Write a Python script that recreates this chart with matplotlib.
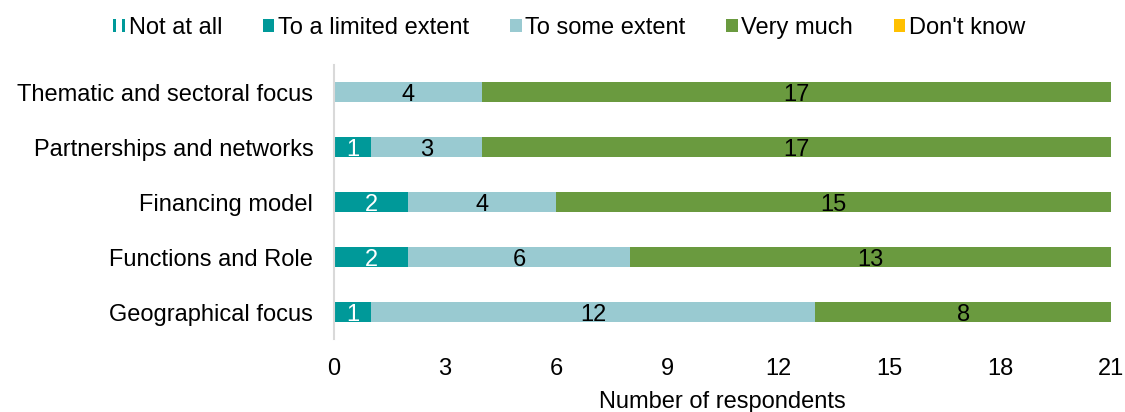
import numpy as np
import matplotlib.pyplot as plt
from matplotlib.patches import Patch
from matplotlib.legend_handler import HandlerTuple

plt.rcParams['font.family'] = ['Liberation Sans', 'DejaVu Sans']

categories = ['Geographical focus', 'Functions and Role', 'Financing model',
              'Partnerships and networks', 'Thematic and sectoral focus']
series = ['Not at all', 'To a limited extent', 'To some extent', 'Very much', "Don't know"]
not_at_all = [0, 0, 0, 0, 0]
limited = [1, 2, 2, 1, 0]
some = [12, 6, 4, 3, 4]
very_much = [8, 13, 15, 17, 17]
dont_know = [0, 0, 0, 0, 0]
xticks = [0, 3, 6, 9, 12, 15, 18, 21]

colors = ['#009999', '#009999', '#99CAD1', '#6A9A3F', '#FFC000']
text_colors = ['white', 'white', 'black', 'black', 'black']

fig = plt.figure(figsize=(11.25, 4.12), dpi=100)
ax = fig.add_axes([0.297, 0.176, 0.6907, 0.667])

y = np.arange(len(categories))
left = np.zeros(len(categories))
for vals, col, tc in zip([not_at_all, limited, some, very_much, dont_know], colors, text_colors):
    vals = np.array(vals)
    ax.barh(y, vals, left=left, height=0.36, color=col)
    for yi, l, v in zip(y, left, vals):
        if v > 0:
            ax.text(l + v / 2, yi, str(v), ha='center', va='center_baseline', color=tc, fontsize=17)
    left += vals

ax.set_xlim(0, 21)
ax.set_ylim(-0.5, 4.5)
ax.set_xticks(xticks)
ax.set_yticks(y)
ax.set_yticklabels(categories)
ax.tick_params(axis='both', length=0, labelsize=17)
ax.tick_params(axis='x', pad=13)
ax.tick_params(axis='y', pad=15)
for s in ['top', 'right', 'bottom']:
    ax.spines[s].set_visible(False)
ax.spines['left'].set_color('#D9D9D9')
ax.spines['left'].set_linewidth(1.5)
ax.set_xlabel('Number of respondents', fontsize=17, labelpad=8)

# striped marker for "Not at all" (two thin teal bars)
handles = [(Patch(facecolor=colors[0]), Patch(facecolor=colors[0]))]
handles += [Patch(facecolor=c) for c in colors[1:]]
fig.legend(handles, series, loc='center', bbox_to_anchor=(0.506, 0.932), ncol=5, frameon=False,
           fontsize=17, handlelength=0.5, handleheight=0.5, handletextpad=0.15, columnspacing=1.72,
           handler_map={tuple: HandlerTuple(ndivide=2, pad=0.25)})

fig.savefig('out.png', dpi=100)
